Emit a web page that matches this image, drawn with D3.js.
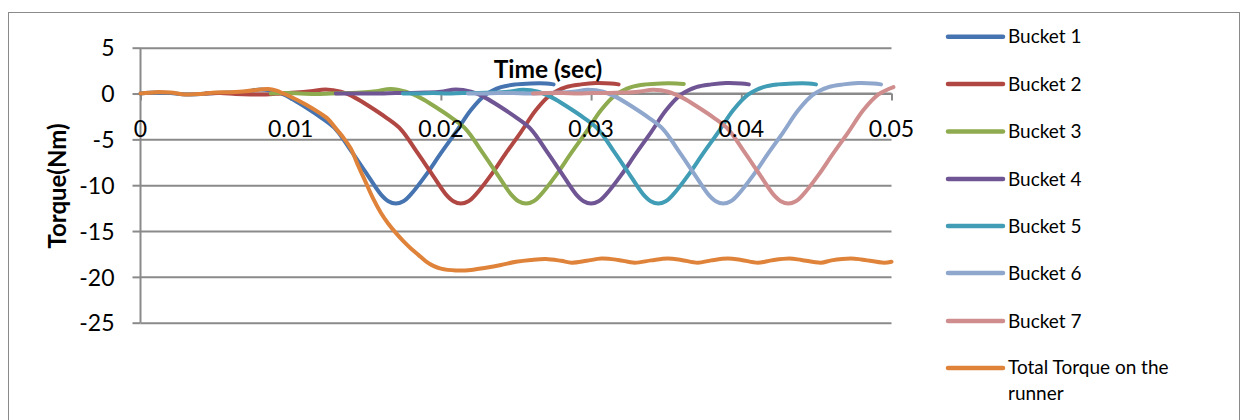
<!DOCTYPE html>
<html>
<head>
<meta charset="utf-8">
<script src="https://cdn.jsdelivr.net/npm/d3@7"></script>
<style>
  html, body { margin: 0; padding: 0; background: #fff; }
  svg { display: block; font-family: Lato, "Open Sans", sans-serif; }
</style>
</head>
<body>
<svg id="chart" width="1242" height="420"></svg>
<script>
// ---------------- DATA ----------------
const seriesNames = ["Bucket 1", "Bucket 2", "Bucket 3", "Bucket 4", "Bucket 5", "Bucket 6", "Bucket 7", "Total Torque on the runner"];
const seriesColors = ["#4674b0", "#b14743", "#8eac4f", "#6f5593", "#409db5", "#8fa7cd", "#cf8e8d", "#e0833a"];

// time at which each bucket's record starts (sec)
const bucketStarts = [0, 0.00433, 0.00867, 0.0130, 0.01747, 0.0218, 0.02613];
// time since each bucket's start (sec)
const bucketTau = [0, 0.001, 0.002, 0.003, 0.004, 0.005, 0.006, 0.007, 0.008, 0.009,
  0.010, 0.011, 0.012, 0.013, 0.014, 0.015, 0.016, 0.0165, 0.017, 0.0175,
  0.018, 0.019, 0.020, 0.021, 0.022, 0.023, 0.024, 0.025, 0.026, 0.027, 0.0275];

const bucket1 = [0, 0.1, 0.05, -0.1, -0.05, 0.05, 0.1, 0.2, 0.45, 0.2, -0.5, -1.5, -2.6, -3.9, -6.2, -8.6, -11.0, -11.75, -12.0, -11.75, -11.0, -8.9, -6.5, -4.2, -1.8, -0.1, 0.7, 1.0, 1.1, 1.1, 1.0];
const bucket2 = [0, 0.05, -0.05, -0.1, -0.1, 0.0, 0.1, 0.25, 0.45, 0.2, -0.5, -1.5, -2.6, -3.9, -6.2, -8.6, -11.0, -11.75, -12.0, -11.75, -11.0, -8.9, -6.5, -4.2, -1.8, -0.1, 0.7, 1.0, 1.15, 1.1, 1.0];
const bucket3 = [0, 0.05, 0.0, -0.05, 0.0, 0.05, 0.1, 0.25, 0.5, 0.2, -0.5, -1.5, -2.6, -3.9, -6.2, -8.6, -11.0, -11.75, -12.0, -11.75, -11.0, -8.9, -6.5, -4.2, -1.8, -0.1, 0.7, 1.0, 1.1, 1.1, 1.05];
const bucket4 = [0, 0.0, 0.0, 0.0, 0.05, 0.05, 0.1, 0.2, 0.45, 0.2, -0.5, -1.5, -2.6, -3.9, -6.2, -8.6, -11.0, -11.75, -12.0, -11.75, -11.0, -8.9, -6.5, -4.2, -1.8, -0.1, 0.7, 1.0, 1.15, 1.1, 1.0];
const bucket5 = [0, 0.0, 0.05, 0.0, 0.05, 0.05, 0.1, 0.2, 0.4, 0.2, -0.5, -1.5, -2.6, -3.9, -6.2, -8.6, -11.0, -11.75, -12.0, -11.75, -11.0, -8.9, -6.5, -4.2, -1.8, -0.1, 0.7, 1.0, 1.1, 1.1, 1.0];
const bucket6 = [0, 0.0, 0.05, 0.05, 0.0, 0.05, 0.1, 0.2, 0.4, 0.2, -0.5, -1.5, -2.6, -3.9, -6.2, -8.6, -11.0, -11.75, -12.0, -11.75, -11.0, -8.9, -6.5, -4.2, -1.8, -0.1, 0.7, 1.0, 1.15, 1.1, 1.0];
const bucket7 = [0, 0.05, 0.05, 0.0, 0.05, 0.05, 0.1, 0.2, 0.4, 0.2, -0.5, -1.5, -2.6, -3.9, -6.2, -8.6, -11.0, -11.75, -12.0, -11.75, -11.0, -8.9, -6.5, -4.2, -1.8, -0.1, 0.7];

const totalTime = [0, 0.001, 0.002, 0.003, 0.004, 0.005, 0.006, 0.007, 0.008, 0.0085,
  0.009, 0.010, 0.011, 0.012, 0.0125, 0.013, 0.0135, 0.014, 0.0145, 0.015,
  0.0155, 0.016, 0.0165, 0.017, 0.0175, 0.018, 0.0185, 0.019, 0.0195, 0.020,
  0.021, 0.022, 0.023, 0.024, 0.025, 0.026, 0.027, 0.028, 0.0287, 0.0297,
  0.0307, 0.0318, 0.0329, 0.034, 0.0351, 0.036, 0.0371, 0.038, 0.0391, 0.040,
  0.0411, 0.042, 0.0432, 0.044, 0.0453, 0.046, 0.0473, 0.048, 0.0495, 0.050];
const totalTorque = [0, 0.15, 0.1, -0.1, -0.05, 0.1, 0.15, 0.25, 0.45, 0.5,
  0.35, -0.35, -1.2, -2.2, -2.8, -3.8, -4.8, -6.0, -7.9, -9.7,
  -11.5, -13.0, -14.2, -15.2, -16.1, -16.9, -17.6, -18.3, -18.8, -19.1,
  -19.3, -19.25, -19.0, -18.7, -18.35, -18.15, -18.05, -18.25, -18.45, -18.25,
  -18.0, -18.15, -18.45, -18.2, -18.0, -18.15, -18.45, -18.2, -18.0, -18.15,
  -18.45, -18.2, -18.0, -18.15, -18.45, -18.2, -18.0, -18.1, -18.45, -18.35];

const xTicks = [0, 0.01, 0.02, 0.03, 0.04, 0.05];
const xTickLabels = ["0", "0.01", "0.02", "0.03", "0.04", "0.05"];
const yTicks = [5, 0, -5, -10, -15, -20, -25];
const yTickLabels = ["5", "0", "-5", "-10", "-15", "-20", "-25"];
const xTitle = "Time (sec)";
const yTitle = "Torque(Nm)";

// ---------------- BUILD ----------------
const bucketValues = [bucket1, bucket2, bucket3, bucket4, bucket5, bucket6, bucket7];
const series = bucketValues.map((vals, i) => ({
  name: seriesNames[i],
  color: seriesColors[i],
  points: vals.map((v, j) => ({ t: bucketStarts[i] + bucketTau[j], v }))
}));
series.push({
  name: seriesNames[7],
  color: seriesColors[7],
  points: totalTorque.map((v, j) => ({ t: totalTime[j], v }))
});

const svg = d3.select("#chart");
const gridColor = "#8a8a8a";

svg.append("rect")
  .attr("x", 8.5).attr("y", 12.5).attr("width", 1231).attr("height", 420)
  .attr("fill", "#fff").attr("stroke", "#8a8a8a").attr("stroke-width", 1);

const x = d3.scaleLinear().domain([0, 0.05]).range([140.5, 891.5]);
const y = d3.scaleLinear().domain([-25, 5]).range([322.7, 47.7]);

// gridlines
const grid = svg.append("g").attr("transform", `translate(${x(0)},0)`)
  .call(d3.axisLeft(y).tickValues(yTicks).tickSize(-(x(0.05) - x(0))).tickFormat(""));
grid.select(".domain").remove();
grid.selectAll("line").attr("stroke", gridColor).attr("stroke-width", 2);

// y axis
const yAxis = svg.append("g").attr("transform", `translate(${x(0)},0)`)
  .call(d3.axisLeft(y).tickValues(yTicks).tickSize(8).tickPadding(0)
    .tickFormat((d, i) => yTickLabels[i]));
yAxis.select(".domain").attr("stroke", gridColor).attr("stroke-width", 2)
  .attr("d", `M0,${y(5)}V${y(-25)}`);
yAxis.selectAll(".tick line").attr("stroke", gridColor).attr("stroke-width", 2);
yAxis.selectAll("text").attr("x", -26).attr("dy", "0.36em")
  .attr("font-size", 23).attr("fill", "#000").attr("font-family", "Lato, sans-serif");

// x axis (at y = 0)
const xAxis = svg.append("g").attr("transform", `translate(0,${y(0)})`)
  .call(d3.axisBottom(x).tickValues(xTicks).tickSize(7)
    .tickFormat((d, i) => xTickLabels[i]));
xAxis.select(".domain").attr("stroke", gridColor).attr("stroke-width", 2)
  .attr("d", `M${x(0)},0H${x(0.05)}`);
xAxis.selectAll(".tick line").attr("stroke", gridColor).attr("stroke-width", 2);
xAxis.selectAll("text").remove();

// series lines
const line = d3.line().x(d => x(d.t)).y(d => y(d.v)).curve(d3.curveCatmullRom.alpha(0.5));
svg.append("g").selectAll("path").data(series).join("path")
  .attr("d", d => line(d.points))
  .attr("fill", "none")
  .attr("stroke", d => d.color)
  .attr("stroke-width", 4)
  .attr("stroke-linecap", "round")
  .attr("stroke-linejoin", "round");

// x tick labels on top of lines
svg.append("g").selectAll("text").data(xTicks).join("text")
  .attr("x", d => x(d)).attr("y", 137)
  .attr("text-anchor", "middle")
  .attr("font-size", 23).attr("fill", "#000")
  .text((d, i) => xTickLabels[i]);

// axis titles
svg.append("text").attr("x", 548).attr("y", 78).attr("text-anchor", "middle")
  .attr("font-size", 24.5).attr("font-weight", "bold").attr("fill", "#000").text(xTitle);
svg.append("text").attr("transform", "translate(66,186) rotate(-90)").attr("text-anchor", "middle")
  .attr("font-size", 24).attr("font-weight", "bold").attr("fill", "#000").text(yTitle);

// legend
const legendY = [36.7, 84, 131.5, 179, 226, 273, 321, 368];
const legend = svg.append("g").selectAll("g").data(series).join("g")
  .attr("transform", (d, i) => `translate(0,${legendY[i]})`);
legend.append("line").attr("x1", 948).attr("x2", 1003).attr("y1", 0).attr("y2", 0)
  .attr("stroke", d => d.color).attr("stroke-width", 4.5).attr("stroke-linecap", "round");
legend.each(function (d, i) {
  const g = d3.select(this);
  if (i < 7) {
    g.append("text").attr("x", 1008).attr("y", 6.7).attr("font-size", 19).attr("fill", "#000").text(d.name);
  } else {
    const t = g.append("text").attr("x", 1008).attr("y", 6.3).attr("font-size", 19).attr("fill", "#000");
    t.append("tspan").attr("x", 1008).text("Total Torque on the");
    t.append("tspan").attr("x", 1008).attr("dy", 26).text("runner");
  }
});
</script>
</body>
</html>
